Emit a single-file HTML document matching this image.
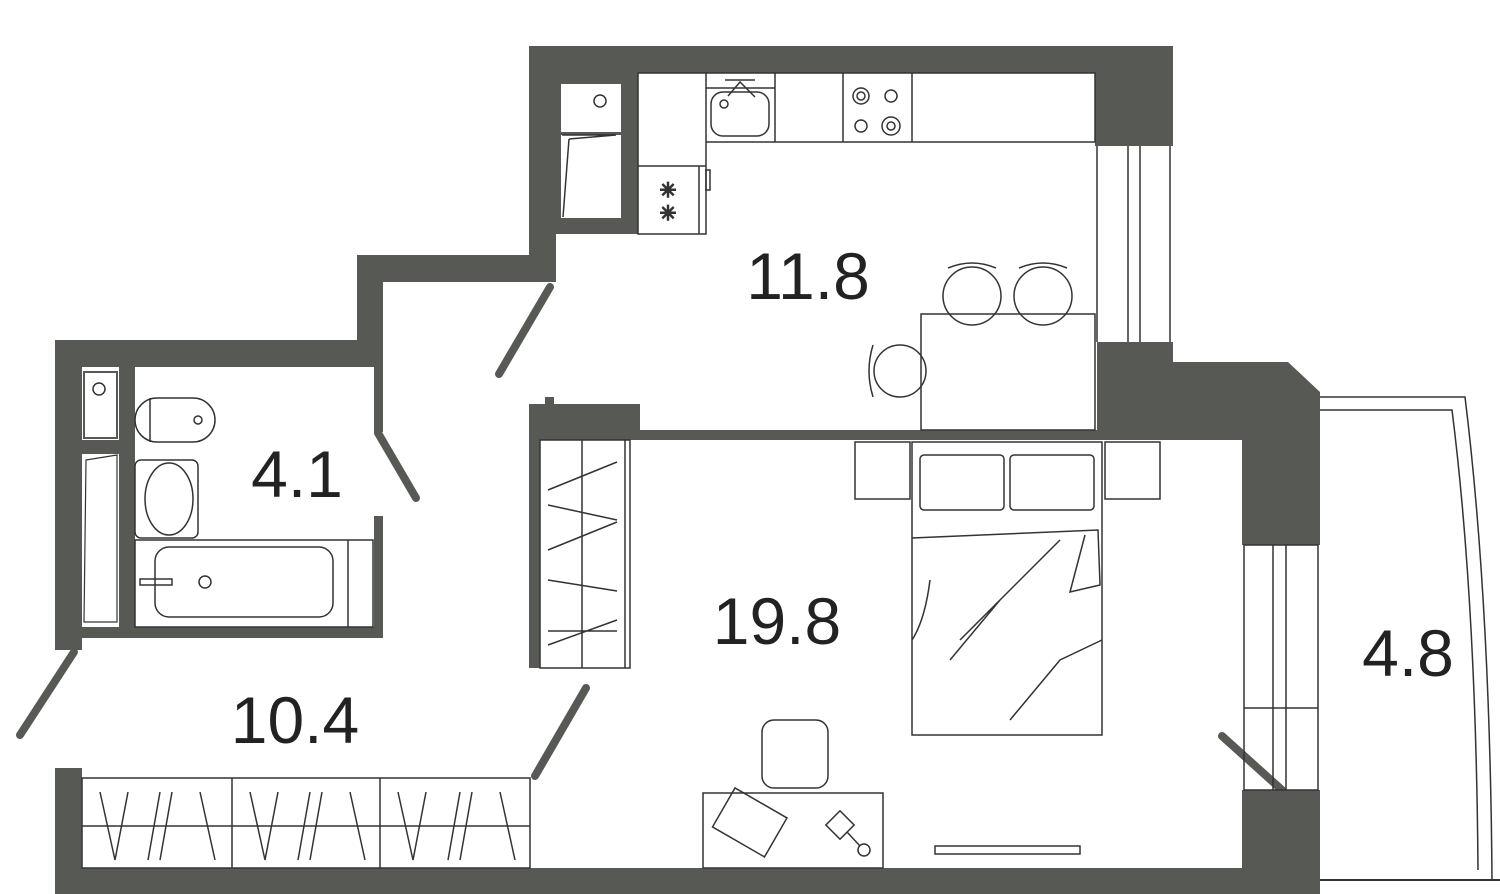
<!DOCTYPE html>
<html><head><meta charset="utf-8"><style>
html,body{margin:0;padding:0;background:#fff;}
svg{display:block;}
text{font-family:"Liberation Sans",sans-serif;fill:#222;font-size:66px;text-anchor:middle;}
</style></head><body>
<svg width="1500" height="894" viewBox="0 0 1500 894" xmlns="http://www.w3.org/2000/svg">
<g fill="#575a54">
<rect x="529" y="46" width="644" height="27"/>
<rect x="529" y="46" width="109" height="188"/>
<rect x="529" y="46" width="27" height="236"/>
<rect x="1095" y="46" width="78" height="100"/>
<polygon points="1097,342 1173,342 1173,362 1288,362 1320,392 1320,545 1242,545 1242,440 1097,440"/>
<rect x="640" y="430" width="602" height="10"/>
<rect x="529" y="404" width="111" height="36"/>
<rect x="545" y="397" width="9" height="10"/>
<rect x="529" y="404" width="11" height="264"/>
<rect x="357" y="255" width="199" height="27"/>
<rect x="357" y="255" width="26" height="112"/>
<rect x="55" y="340" width="328" height="27"/>
<rect x="55" y="340" width="27" height="310"/>
<rect x="374" y="367" width="9" height="65"/>
<rect x="374" y="516" width="9" height="122"/>
<rect x="82" y="627" width="301" height="11"/>
<rect x="82" y="440" width="37" height="14"/>
<rect x="119" y="367" width="16" height="260"/>
<rect x="55" y="768" width="27" height="126"/>
<rect x="55" y="868" width="1265" height="26"/>
<rect x="1242" y="790" width="78" height="80"/>
</g>
<rect x="84" y="372" width="33" height="66" fill="#fff" stroke="#575a54" stroke-width="2"/>
<circle cx="99" cy="389" r="6" fill="none" stroke="#333" stroke-width="1.5"/>
<polygon points="86,460 117,455 117,622 84,622" fill="#fff" stroke="#333" stroke-width="1.2"/>
<rect x="561" y="84" width="60" height="48" fill="#fff"/>
<rect x="561" y="135" width="60" height="83" fill="#fff"/>
<g stroke="#575a54" stroke-width="8" stroke-linecap="round">
<line x1="550" y1="287" x2="499" y2="374"/>
<line x1="378" y1="433" x2="416" y2="498"/>
<line x1="74" y1="652" x2="20" y2="735"/>
<line x1="586" y1="688" x2="535" y2="776"/>
<line x1="1222" y1="736" x2="1282" y2="790"/>
</g>
<g fill="none" stroke="#333" stroke-width="1.5">
<line x1="1097" y1="146" x2="1097" y2="342"/><line x1="1128" y1="146" x2="1128" y2="342"/>
<line x1="1140" y1="146" x2="1140" y2="342"/><line x1="1170" y1="146" x2="1170" y2="342"/>
<rect x="1244" y="545" width="74" height="245"/>
<line x1="1273" y1="545" x2="1273" y2="790"/><line x1="1286" y1="545" x2="1286" y2="790"/>
<line x1="1244" y1="708" x2="1318" y2="708"/>
<path d="M1320,397 L1465,397 Q1490,600 1492,880"/>
<path d="M1320,410 L1452,410 Q1476,600 1478,870"/>
<line x1="1320" y1="880" x2="1500" y2="880" stroke-width="2"/>
<circle cx="600" cy="101" r="6"/><polyline points="569,139 616,135 562,135"/><line x1="569" y1="139" x2="563" y2="217"/>
<path d="M706,73 H1095 V142 H706"/>
<rect x="638" y="73" width="68" height="161" fill="#fff"/><line x1="638" y1="166" x2="706" y2="166"/><line x1="699" y1="166" x2="699" y2="234"/>
<rect x="706" y="170" width="4" height="20"/>
<line x1="775" y1="73" x2="775" y2="142"/><line x1="843" y1="73" x2="843" y2="142"/><line x1="912" y1="73" x2="912" y2="142"/>
<line x1="706" y1="88" x2="775" y2="88"/>
<rect x="711" y="92" width="58" height="44" rx="12"/><circle cx="724" cy="104" r="4"/>
<path d="M725,80 H755 M728,96 L740,82 L755,97"/>
<circle cx="861" cy="96" r="8"/><circle cx="861" cy="96" r="4"/><circle cx="891" cy="96" r="6"/>
<circle cx="861" cy="126" r="6"/><circle cx="891" cy="126" r="9"/><circle cx="891" cy="126" r="4"/>
<text x="668" y="197" style="font-size:20px">✳</text><text x="668" y="220" style="font-size:20px">✳</text>
<rect x="921" y="314" width="174" height="116"/>
<circle cx="972" cy="296" r="29"/><circle cx="1043" cy="296" r="29"/>
<path d="M948,268 Q972,258 996,268 M1019,268 Q1043,258 1067,268"/>
<circle cx="900" cy="371" r="26"/>
<path d="M873,345 Q865,371 873,397"/>
<rect x="135" y="398" width="80" height="44" rx="22"/><line x1="150" y1="398" x2="150" y2="442"/>
<circle cx="198" cy="420" r="4"/>
<rect x="135" y="460" width="63" height="78" rx="6"/><ellipse cx="169" cy="499" rx="24" ry="36"/>
<rect x="135" y="540" width="238" height="87"/><rect x="155" y="547" width="178" height="70" rx="14"/>
<line x1="348" y1="540" x2="348" y2="627"/><circle cx="205" cy="582" r="6"/>
<rect x="140" y="579" width="32" height="6"/>
<rect x="540" y="440" width="90" height="228"/><line x1="582" y1="440" x2="582" y2="668"/><line x1="625" y1="440" x2="625" y2="668"/>
<path d="M548,490 L617,462 M548,505 L617,520 M548,550 L617,522 M548,580 L617,591 M548,645 L617,620 M548,631 L617,631"/>
<rect x="912" y="442" width="190" height="293"/>
<rect x="920" y="455" width="84" height="55" rx="4"/><rect x="1010" y="455" width="84" height="55" rx="4"/>
<path d="M912,538 L1098,530 L1100,585 L1070,592 L1085,535 M930,580 Q925,620 912,640 M960,640 L1060,540 M950,660 L1000,600 M1010,720 L1060,660 L1102,640"/>
<rect x="855" y="442" width="55" height="57"/><rect x="1105" y="442" width="55" height="57"/>
<rect x="703" y="793" width="180" height="75"/>
<rect x="762" y="720" width="66" height="68" rx="12"/>
<rect x="720" y="800" width="60" height="45" transform="rotate(30 750 822)"/>
<rect x="830" y="815" width="20" height="20" transform="rotate(45 840 825)"/><circle cx="864" cy="850" r="6"/>
<line x1="847" y1="832" x2="860" y2="846"/>
<rect x="935" y="846" width="145" height="8"/>
<rect x="82" y="778" width="448" height="90"/>
<line x1="232" y1="778" x2="232" y2="868"/><line x1="380" y1="778" x2="380" y2="868"/>
<path d="M100,792 L115,860 L128,792 M160,792 L148,860 M172,792 L160,860 M200,792 L215,860 M250,792 L265,860 L278,792 M310,792 L298,860 M322,792 L310,860 M350,792 L365,860 M398,792 L413,860 L426,792 M460,792 L448,860 M472,792 L460,860 M500,792 L515,860"/>
<line x1="82" y1="826" x2="530" y2="826"/>
</g>
<text x="808" y="299">11.8</text>
<text x="297" y="497">4.1</text>
<text x="777" y="644">19.8</text>
<text x="295" y="743">10.4</text>
<text x="1408" y="676">4.8</text>
</svg>
</body></html>
